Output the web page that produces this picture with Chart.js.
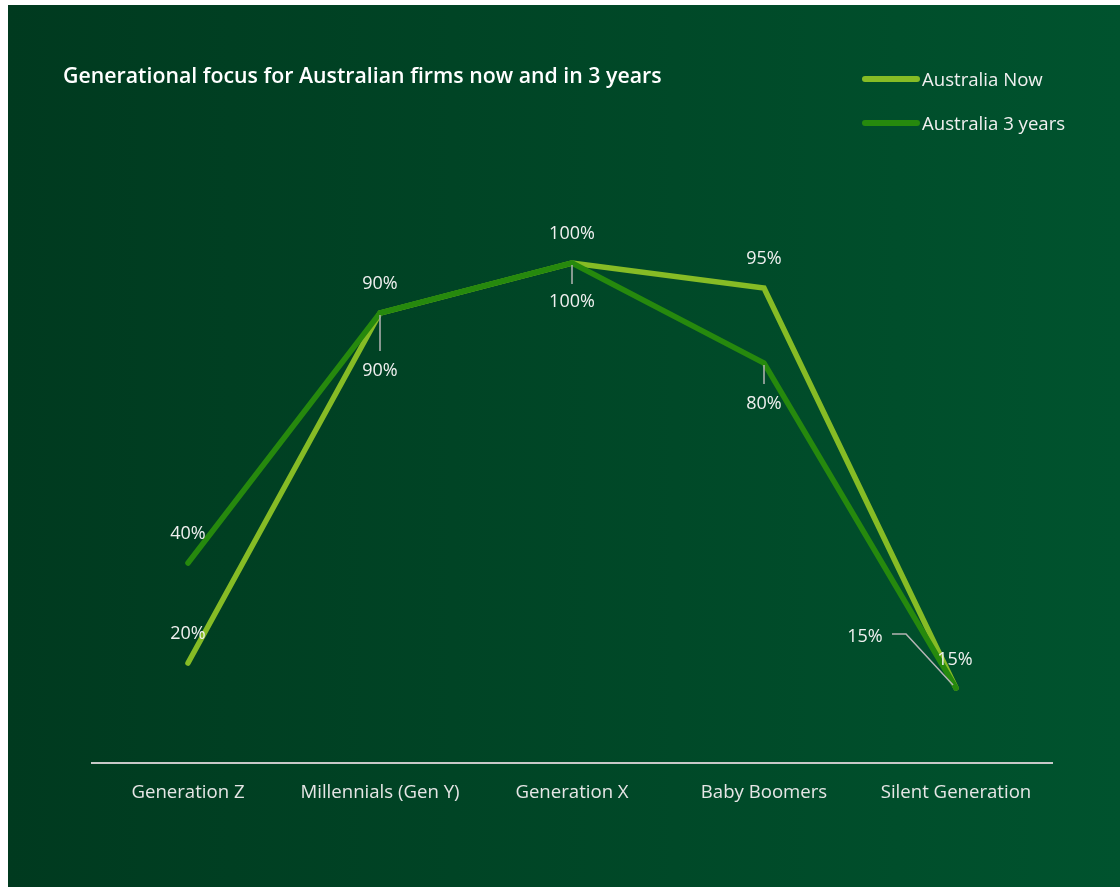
<!DOCTYPE html>
<html><head><meta charset="utf-8">
<script src="https://cdn.jsdelivr.net/npm/chart.js@4.4.1/dist/chart.umd.min.js"></script>
<style>
html,body{margin:0;padding:0;background:#fff;width:1120px;height:887px;overflow:hidden;font-family:"Open Sans",sans-serif;}
#wrap{position:absolute;left:0;top:0;width:1120px;height:887px;}
#title{position:absolute;left:63px;top:60px;color:#fff;font-weight:600;font-size:21.3px;white-space:nowrap;}
.leg{position:absolute;left:862px;color:#f0f0f0;font-size:18.6px;white-space:nowrap;display:flex;align-items:center;}
.leg span.sw{display:inline-block;width:58px;height:6px;border-radius:3px;margin-right:2px;}
</style></head>
<body>
<div id="wrap"><canvas id="c" width="1120" height="887"></canvas></div>
<div id="title">Generational focus for Australian firms now and in 3 years</div>
<div class="leg" style="top:66px"><span class="sw" style="background:#86BC25"></span>Australia Now</div>
<div class="leg" style="top:110px"><span class="sw" style="background:#26890D"></span>Australia 3 years</div>
<script>
const categories = ["Generation Z","Millennials (Gen Y)","Generation X","Baby Boomers","Silent Generation"];
const nowValues = [20, 90, 100, 95, 15];
const threeYearValues = [40, 90, 100, 80, 15];
const seriesNames = ["Australia Now","Australia 3 years"];

// label placement (style only), keyed by series
const labelPlacement = {
  "Australia Now": [ {dx:0,dy:-29}, {dx:0,dy:-29}, {dx:0,dy:-29}, {dx:0,dy:-29}, {dx:-1,dy:-28} ],
  "Australia 3 years": [ {dx:0,dy:-29}, {dx:0,dy:58,lead:[[0,2],[0,38]]}, {dx:0,dy:39,lead:[[0,2],[0,21]]}, {dx:0,dy:41,lead:[[0,2],[0,21]]}, {dx:-91,dy:-51,lead:[[-3,-3],[-50,-54],[-64,-54]]} ]
};

const bgPlugin = {
  id:'bg',
  beforeDraw(chart){
    const ctx = chart.ctx;
    const g = ctx.createLinearGradient(8,0,1120,0);
    g.addColorStop(0,'#003a1f');
    g.addColorStop(1,'#00532e');
    ctx.save();
    ctx.fillStyle = g;
    ctx.fillRect(8,5,1112,882);
    ctx.restore();
  }
};

const labelPlugin = {
  id:'lbl',
  afterDatasetsDraw(chart){
    const ctx = chart.ctx;
    ctx.save();
    ctx.font = '18px "Open Sans"';
    ctx.fillStyle = '#f0f0f0';
    ctx.textAlign = 'center';
    ctx.textBaseline = 'middle';
    chart.data.datasets.forEach((ds, di) => {
      const meta = chart.getDatasetMeta(di);
      const pl = labelPlacement[ds.label];
      meta.data.forEach((pt, i) => {
        const p = pl[i];
        if (p.lead) {
          ctx.strokeStyle = '#b4b4b4';
          ctx.lineWidth = 1.5;
          ctx.beginPath();
          p.lead.forEach((q, k) => {
            if (k === 0) ctx.moveTo(pt.x + q[0], pt.y + q[1]);
            else ctx.lineTo(pt.x + q[0], pt.y + q[1]);
          });
          ctx.stroke();
        }
        ctx.fillText(ds.data[i] + '%', pt.x + p.dx, pt.y + p.dy);
      });
    });
    ctx.restore();
  }
};

new Chart(document.getElementById('c'), {
  type:'line',
  data:{
    labels: categories,
    datasets:[
      {label:seriesNames[0], data:nowValues, borderColor:'#86BC25', borderWidth:5.5, pointRadius:0, borderCapStyle:'round', borderJoinStyle:'miter', tension:0, clip:false, order:2},
      {label:seriesNames[1], data:threeYearValues, borderColor:'#26890D', borderWidth:5.5, pointRadius:0, borderCapStyle:'round', borderJoinStyle:'miter', tension:0, clip:false, order:1}
    ]
  },
  options:{
    responsive:false,
    animation:false,
    layout:{padding:{left:92,right:68,top:263,bottom:0}},
    plugins:{legend:{display:false},title:{display:false},tooltip:{enabled:false}},
    scales:{
      x:{
        offset:true,
        grid:{display:false},
        border:{display:true,color:'#c8c8c8',width:2},
        ticks:{color:'#e6e6e6',font:{family:'"Open Sans"',size:18.6},padding:11,maxRotation:0,autoSkip:false},
        afterFit(s){ s.height = 124; }
      },
      y:{display:false,min:0,max:100}
    }
  },
  plugins:[bgPlugin,labelPlugin]
});
</script>
</body></html>
